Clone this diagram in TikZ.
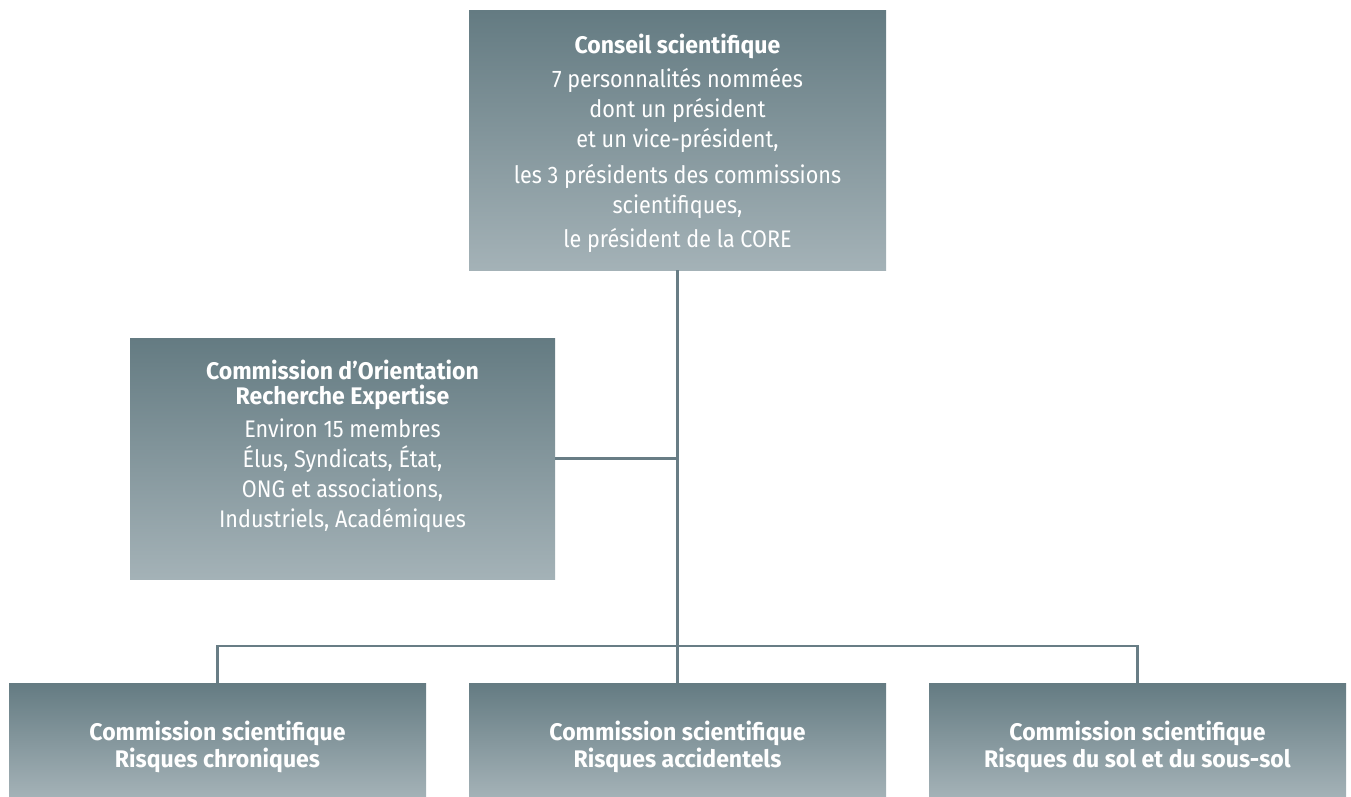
\documentclass[tikz,border=0pt]{standalone}
\usepackage{fontspec}
\setmainfont{Fira Sans}[FakeStretch=0.9, BoldFeatures={FakeStretch=0.96}]
\definecolor{boxtop}{RGB}{100,123,130}
\definecolor{boxbot}{RGB}{164,178,183}
\definecolor{linec}{RGB}{104,125,133}
\begin{document}
\begin{tikzpicture}[x=1pt,y=-1pt,
  orgbox/.style={rectangle, inner sep=0pt, top color=boxtop, bottom color=boxbot, draw=none},
  boxtext/.style={text=white, align=center, inner sep=0pt, font=\fontsize{24}{30}\selectfont},
  conn/.style={draw=linec, line width=2.2pt}]
\useasboundingbox (0,0) rectangle (1351,797);
% boxes
\node[orgbox, minimum width=417pt, minimum height=259pt] (cs) at (677.5,140.5) {};
\node[orgbox, minimum width=425pt, minimum height=241pt] (core) at (342.5,458.5) {};
\node[orgbox, minimum width=417pt, minimum height=114pt] (b1) at (217.5,740) {};
\node[orgbox, minimum width=417pt, minimum height=114pt] (b2) at (677.5,740) {};
\node[orgbox, minimum width=417pt, minimum height=114pt] (b3) at (1137.5,740) {};
% texts
\node[boxtext] (cst) at ([yshift=-3pt]cs.center) {\textbf{Conseil scientifique}\\[4pt]
7 personnalités nommées\\ dont un président\\ et un vice-président,\\[6pt]
les 3 présidents des commissions\\ scientifiques,\\[4pt]
le président de la CORE};
\node[boxtext] (coret) at ([yshift=12pt]core.center) {\textbf{Commission d’Orientation}\\[-5pt]
\textbf{Recherche Expertise}\\[3pt]
Environ 15 membres\\ Élus, Syndicats, État,\\ ONG et associations,\\ Industriels, Académiques};
\node[boxtext] (b1t) at ([yshift=-7pt]b1.center) {\textbf{Commission scientifique}\\[-3pt]\textbf{Risques chroniques}};
\node[boxtext] (b2t) at ([yshift=-7pt]b2.center) {\textbf{Commission scientifique}\\[-3pt]\textbf{Risques accidentels}};
\node[boxtext] (b3t) at ([yshift=-7pt]b3.center) {\textbf{Commission scientifique}\\[-3pt]\textbf{Risques du sol et du sous-sol}};
% connectors
\coordinate (hb) at (677.5,646);
\draw[conn] (cs.south) -- (b2.north);
\draw[conn] (core.east) -- (core.east -| cs.south);
\draw[conn] (b1.north) |- (hb) -| (b3.north);
\end{tikzpicture}
\end{document}
